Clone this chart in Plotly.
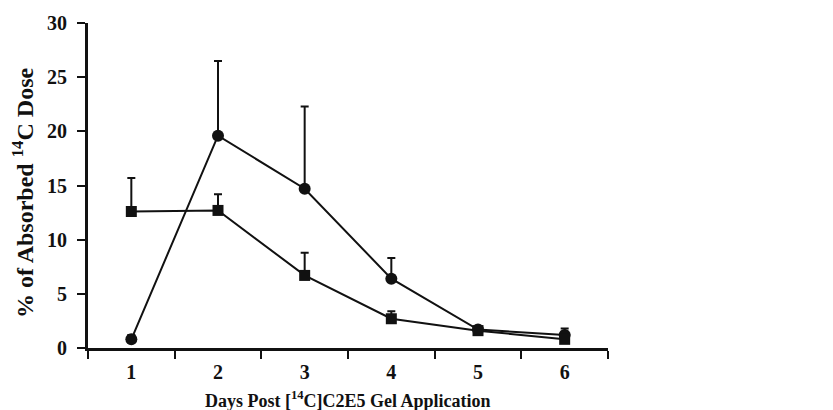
import plotly.graph_objects as go

days = ["1", "2", "3", "4", "5", "6"]
circle_vals = [0.8, 19.6, 14.7, 6.4, 1.7, 1.2]
circle_err = [0.4, 6.9, 7.6, 1.9, 0.3, 0.6]
square_vals = [12.6, 12.7, 6.7, 2.7, 1.6, 0.8]
square_err = [3.1, 1.5, 2.1, 0.7, 0.3, 0.2]
y_ticks = [0, 5, 10, 15, 20, 25, 30]

INK = "#111111"
FAM = "Liberation Serif"

fig = go.Figure()
for vals, err, sym, size in [(circle_vals, circle_err, "circle", 12),
                             (square_vals, square_err, "square", 11)]:
    fig.add_trace(go.Scatter(
        x=days, y=vals, mode="lines+markers",
        line=dict(color=INK, width=2),
        marker=dict(symbol=sym, size=size, color=INK),
        error_y=dict(type="data", array=err, arrayminus=[0]*len(err), symmetric=False,
                     color=INK, thickness=2, width=4),
        showlegend=False,
    ))

# page has an 8px body margin; figure sized to fit inside the 833x410 window
OFF = 8
W, H = 833 - OFF, 410 - OFF
L, T = 88 - OFF, 23 - OFF
R = W - (608 - OFF)
B = H - (348 - OFF)
pw, ph = W - L - R, H - T - B

fig.update_layout(
    width=W, height=H,
    margin=dict(l=L, r=R, t=T, b=B, autoexpand=False),
    plot_bgcolor="white", paper_bgcolor="white",
    font=dict(family=FAM, color=INK),
)
fig.update_xaxes(
    type="category", range=[-0.5, 5.5], tickson="boundaries",
    ticks="outside", ticklen=8, tickwidth=2, tickcolor=INK,
    showline=True, linewidth=3, linecolor=INK, showgrid=False, zeroline=False,
    automargin=False, ticklabelstandoff=4,
    tickfont=dict(family=FAM, size=20, color=INK, weight="bold"),
)
fig.update_yaxes(
    range=[0, 30], tickvals=y_ticks,
    ticks="outside", ticklen=8, tickwidth=2, tickcolor=INK,
    showline=True, linewidth=3, linecolor=INK, showgrid=False, zeroline=False,
    automargin=False, ticklabelstandoff=6,
    tickfont=dict(family=FAM, size=20, color=INK, weight="bold"),
)
fig.add_annotation(
    text="<b>Days Post [<sup>14</sup>C]C2E5 Gel Application</b>",
    xref="paper", yref="paper", x=0.5, y=(348 - 399) / ph,
    xanchor="center", yanchor="middle", showarrow=False,
    font=dict(family=FAM, size=18, color=INK),
)
fig.add_annotation(
    text="<b>% of Absorbed <sup>14</sup>C Dose</b>",
    xref="paper", yref="paper", x=(23 - 88) / pw, y=(348 - 193) / ph, textangle=-90,
    xanchor="center", yanchor="middle", showarrow=False,
    font=dict(family=FAM, size=24, color=INK),
)
fig.write_html("out.html")
